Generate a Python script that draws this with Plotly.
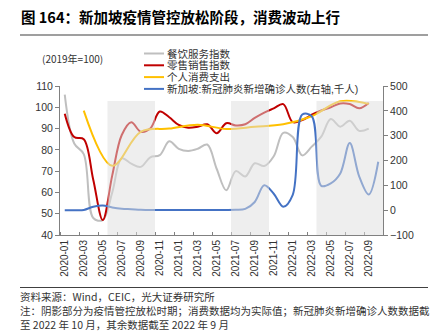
import plotly.graph_objects as go

# ---------------- data ----------------
months = ["2020-01", "2020-02", "2020-03", "2020-04", "2020-05", "2020-06", "2020-07", "2020-08",
          "2020-09", "2020-10", "2020-11", "2020-12", "2021-01", "2021-02", "2021-03", "2021-04",
          "2021-05", "2021-06", "2021-07", "2021-08", "2021-09", "2021-10", "2021-11", "2021-12",
          "2022-01", "2022-02", "2022-03", "2022-04", "2022-05", "2022-06", "2022-07", "2022-08",
          "2022-09", "2022-10"]

# 餐饮服务指数 (2020-01 .. 2022-09)
fnb_index = [106, 83, 78, 48, 47, 60, 76, 73.5, 72, 76.5, 77.5, 84, 80.5, 79.5, 80.5, 82.5,
             71, 61, 70, 67.5, 73.7, 72.4, 77, 88, 86, 77.4, 81.5, 86.2, 94.5, 90.9, 93.7, 88.9, 90]

# 零售销售指数 (2020-01 .. 2022-09)
retail_index = [97, 86, 85, 66, 47, 68, 87, 93, 88.5, 90, 98, 95.3, 91.7, 90.4, 90.9, 92,
                87.8, 92.5, 91.5, 92, 95, 97.5, 99.5, 101.5, 93, 94, 96.5, 98.5, 100, 101.8,
                101.5, 99.5, 102]

# 个人消费支出 (quarterly)
pce_months = ["2020-03", "2020-06", "2020-09", "2020-12", "2021-03", "2021-06", "2021-09",
              "2021-12", "2022-03", "2022-06", "2022-09"]
pce_index = [98.4, 72.5, 88.5, 90, 91.8, 89.8, 90.8, 92, 95.8, 102.8, 101.6]

# 新加坡:新冠肺炎新增确诊人数 (千人, 2020-01 .. 2022-10)
covid_cases = [0.01, 0.1, 0.9, 14, 19, 11, 6, 4, 1.5, 0.3, 0.2, 0.3, 0.6, 0.3, 0.5, 1,
               0.7, 0.8, 1.5, 5, 33, 100, 66, 14, 62, 385, 378, 98, 108, 148, 270, 135, 63, 195]

# 疫情管控放松时期 (shaded)
relax_start = ["2020-06", "2021-07", "2022-04"]
relax_end = ["2020-10", "2021-10", "2022-10"]

tick_labels = months[::2]

series_names = ["餐饮服务指数", "零售销售指数", "个人消费支出", "新加坡:新冠肺炎新增确诊人数(右轴,千人)"]
series_colors = ["#BFBFBF", "#C00000", "#FFC000", "#4472C4"]

# ---------------- helpers ----------------
idx = {m: i for i, m in enumerate(months)}
W, H = 433, 331
L, R, T, B = 60, 383, 86, 235


def px(xp):
    return (xp - L) / (R - L)


def py(yp):
    return (B - yp) / (B - T)


NUM_FONT = "Liberation Sans, Arial, Noto Sans CJK SC"
CJK_FONT = "Noto Sans CJK SC, Liberation Sans"
LEG_FONT = "Liberation Sans, Noto Sans CJK SC"
TXT = "#333333"
AX = "#808080"

fig = go.Figure()

fig.add_trace(go.Scatter(
    x=[idx[m] for m in months[:len(fnb_index)]], y=fnb_index, mode="lines",
    line=dict(color=series_colors[0], width=2, shape="spline", smoothing=1),
    name=series_names[0], showlegend=False))
fig.add_trace(go.Scatter(
    x=[idx[m] for m in months[:len(retail_index)]], y=retail_index, mode="lines",
    line=dict(color=series_colors[1], width=2, shape="spline", smoothing=1),
    name=series_names[1], showlegend=False))
fig.add_trace(go.Scatter(
    x=[idx[m] for m in pce_months], y=pce_index, mode="lines",
    line=dict(color=series_colors[2], width=2, shape="spline", smoothing=1),
    name=series_names[2], showlegend=False))
fig.add_trace(go.Scatter(
    x=[idx[m] for m in months[:len(covid_cases)]], y=covid_cases, mode="lines",
    line=dict(color=series_colors[3], width=2, shape="spline", smoothing=1),
    name=series_names[3], yaxis="y2", showlegend=False))

shapes = []
for s, e in zip(relax_start, relax_end):
    shapes.append(dict(type="rect", xref="x", yref="y", x0=idx[s] - 0.5, x1=idx[e] + 0.5,
                       y0=40, y1=103, fillcolor="rgb(222,222,222)", opacity=0.5,
                       line=dict(width=0), layer="above"))

# header / footer rules
shapes.append(dict(type="line", xref="paper", yref="paper", x0=px(20), x1=px(428),
                   y0=py(35), y1=py(35), line=dict(color="#7F7F7F", width=1.5)))
shapes.append(dict(type="line", xref="paper", yref="paper", x0=px(20), x1=px(428),
                   y0=py(287.5), y1=py(287.5), line=dict(color="#404040", width=1)))

annotations = []
# legend (manual, compact)
leg_rows = [53.5, 65.3, 77.1, 88.9]
for name, col, yy in zip(series_names, series_colors, leg_rows):
    shapes.append(dict(type="line", xref="paper", yref="paper", x0=px(144), x1=px(164),
                       y0=py(yy), y1=py(yy), line=dict(color=col, width=2)))
    annotations.append(dict(xref="paper", yref="paper", x=px(166), y=py(yy), text=name,
                            showarrow=False, xanchor="left", yanchor="middle",
                            borderpad=0,
                            font=dict(family=LEG_FONT, size=10.5, color=TXT)))

annotations.append(dict(xref="paper", yref="paper", x=px(19), y=py(17),
                        text="<b>图 164：新加坡疫情管控放松阶段，消费波动上行</b>",
                        showarrow=False, xanchor="left", yanchor="middle",
                        font=dict(family=CJK_FONT, size=14.5, color="#000000")))
annotations.append(dict(xref="paper", yref="paper", x=px(40), y=py(58),
                        text="(2019年=100)", showarrow=False, xanchor="left", yanchor="middle",
                        font=dict(family=CJK_FONT, size=10, color=TXT)))
footer = ["资料来源：Wind，CEIC，光大证券研究所",
          "注：阴影部分为疫情管控放松时期；消费数据均为实际值；新冠肺炎新增确诊人数数据截",
          "至 2022 年 10 月，其余数据截至 2022 年 9 月"]
for t, yy in zip(footer, [296.5, 310.5, 324]):
    annotations.append(dict(xref="paper", yref="paper", x=px(19), y=py(yy), text=t,
                            showarrow=False, xanchor="left", yanchor="middle",
                            height=13, valign="middle", borderpad=0,
                            font=dict(family=CJK_FONT, size=10.5, color=TXT)))

fig.update_layout(
    template="none",
    width=W, height=H,
    margin=dict(l=L, r=W - R, t=T, b=H - B, pad=0),
    paper_bgcolor="white", plot_bgcolor="white",
    showlegend=False,
    shapes=shapes, annotations=annotations,
    xaxis=dict(
        range=[-0.5, len(months) - 0.5], tickmode="array",
        tickvals=[idx[m] for m in tick_labels], ticktext=tick_labels,
        tickangle=-90, ticks="", showgrid=False, zeroline=False,
        showline=True, linecolor=AX, linewidth=1,
        tickfont=dict(family=NUM_FONT, size=10, color=TXT),
        minor=dict(tickmode="linear", tick0=-0.5, dtick=2, ticks="inside", ticklen=3,
                   tickcolor=AX, showgrid=False),
        automargin=False, fixedrange=True),
    yaxis=dict(
        range=[40, 110], dtick=10, tick0=40, ticks="outside", ticklen=4, tickcolor=AX,
        showgrid=False, zeroline=False, showline=True, linecolor=AX, linewidth=1,
        tickfont=dict(family=NUM_FONT, size=10.5, color=TXT), automargin=False),
    yaxis2=dict(
        range=[-100, 500], dtick=100, tick0=-100, overlaying="y", side="right",
        ticks="outside", ticklen=4, tickcolor=AX,
        showgrid=False, zeroline=False, showline=True, linecolor=AX, linewidth=1,
        tickfont=dict(family=NUM_FONT, size=10.5, color=TXT), automargin=False),
)

fig.write_html("out.html")
